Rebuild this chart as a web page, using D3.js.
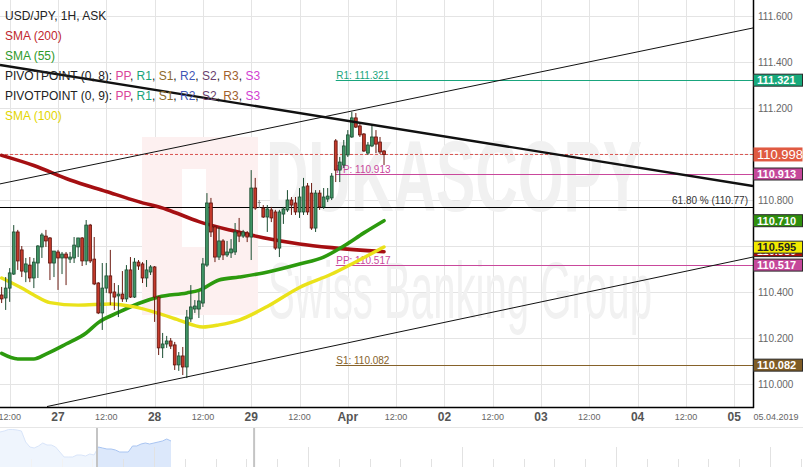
<!DOCTYPE html>
<html><head><meta charset="utf-8">
<script src="https://cdn.jsdelivr.net/npm/d3@7"></script>
<style>html,body{margin:0;padding:0;background:#fff;overflow:hidden}svg{display:block;font-family:"Liberation Sans",Arial,sans-serif}</style>
</head><body><svg id="c" width="803" height="467"></svg>
<script>
// ---------- DATA ----------
const firstIndex = -14; // hourly bars, index 0 = 27 Mar 00:00 (weekend removed)
const open = [
110.387,110.374,110.417,110.478,110.661,110.583,110.487,110.517,110.461,110.526,
110.596,110.643,110.635,110.526,
110.574,110.548,110.565,110.543,110.548,110.596,110.635,110.535,110.691,110.543,
110.439,110.309,110.417,110.470,110.400,110.383,110.391,110.370,110.496,110.378,
110.530,110.522,110.461,110.487,110.509,110.378,110.157,110.174,110.187,110.170,
110.083,110.122,110.074,110.283,110.326,110.326,110.352,110.517,110.787,110.683,
110.552,110.622,110.561,110.570,110.574,110.661,110.643,110.657,110.639,110.852,
110.789,110.765,110.726,110.757,110.748,110.591,110.739,110.757,110.800,110.787,
110.748,110.748,110.861,110.830,110.678,110.830,110.770,110.804,110.809,111.057,
110.930,110.952,110.996,111.074,111.157,111.122,111.087,111.004,111.035,111.074,
111.052,111.013];
const high = [
110.422,110.465,110.504,110.691,110.670,110.600,110.548,110.552,110.548,110.604,
110.657,110.670,110.639,110.578,
110.583,110.574,110.574,110.574,110.639,110.635,110.639,110.713,110.696,110.639,
110.443,110.526,110.526,110.583,110.439,110.430,110.491,110.517,110.552,110.548,
110.539,110.530,110.539,110.517,110.513,110.383,110.222,110.209,110.200,110.183,
110.139,110.161,110.322,110.430,110.365,110.400,110.548,110.830,110.809,110.691,
110.683,110.630,110.622,110.630,110.700,110.722,110.670,110.665,110.930,110.896,
110.800,110.778,110.778,110.770,110.757,110.757,110.770,110.843,110.813,110.813,
110.852,110.896,110.874,110.874,110.843,110.843,110.852,110.852,110.917,111.065,
110.987,111.061,111.104,111.183,111.178,111.130,111.091,111.052,111.126,111.104,
111.074,111.017];
const low = [
110.352,110.322,110.357,110.474,110.496,110.465,110.443,110.443,110.417,110.461,
110.548,110.596,110.452,110.465,
110.409,110.478,110.430,110.526,110.526,110.552,110.513,110.517,110.526,110.430,
110.304,110.235,110.396,110.343,110.322,110.291,110.357,110.357,110.374,110.374,
110.496,110.439,110.422,110.474,110.270,110.126,110.113,110.157,110.152,110.061,
110.057,110.039,110.026,110.270,110.309,110.287,110.335,110.509,110.639,110.530,
110.539,110.539,110.552,110.548,110.561,110.617,110.635,110.617,110.539,110.757,
110.765,110.722,110.661,110.704,110.583,110.552,110.696,110.748,110.735,110.735,
110.722,110.735,110.735,110.670,110.661,110.757,110.761,110.791,110.800,110.878,
110.878,110.939,110.987,111.070,111.113,111.074,111.009,110.996,111.030,111.004,
111.000,110.952];
const close = [
110.370,110.417,110.483,110.661,110.535,110.491,110.522,110.461,110.530,110.600,
110.648,110.622,110.526,110.578,
110.548,110.565,110.548,110.552,110.604,110.635,110.535,110.691,110.535,110.435,
110.309,110.417,110.470,110.396,110.378,110.391,110.370,110.496,110.378,110.530,
110.513,110.461,110.496,110.509,110.378,110.157,110.174,110.187,110.165,110.083,
110.122,110.074,110.291,110.335,110.339,110.361,110.522,110.787,110.661,110.552,
110.622,110.561,110.574,110.587,110.661,110.643,110.661,110.639,110.852,110.765,
110.789,110.726,110.761,110.722,110.591,110.748,110.761,110.800,110.778,110.748,
110.813,110.857,110.748,110.678,110.830,110.770,110.813,110.817,110.904,110.930,
110.965,111.035,111.083,111.157,111.117,111.083,111.013,111.039,111.074,111.043,
111.009,110.998];

const sma200Idx = [-14,-6,3,12,20,27,35,43,51,60,68,81];
const sma200Val = [110.994,110.950,110.887,110.837,110.793,110.759,110.706,110.668,110.636,110.609,110.593,110.575];
const sma55Idx = [-14,-10,-6,-3,2,7,10,15,20,25,32,35,40,45,51,60,66,71,76,81];
const sma55Val = [110.133,110.109,110.109,110.130,110.174,110.222,110.267,110.311,110.350,110.378,110.396,110.407,110.452,110.465,110.483,110.522,110.552,110.600,110.657,110.710];
const sma100Idx = [-14,-9,-6,-2,5,13,19,25,30,36,40,45,52,60,68,73,81];
const sma100Val = [110.461,110.417,110.387,110.354,110.343,110.348,110.335,110.307,110.278,110.248,110.257,110.278,110.337,110.420,110.478,110.522,110.596];

const pivotStart = 69;
const pivotNames = ["R1","PP","PP","S1"];
const pivotValues = [111.321,110.913,110.517,110.082];
const pivotColors = ["#19a57d","#c9489c","#c9489c","#86622a"];
const lastPrice = 110.998;
const fibLevel = 110.77, fibLabel = "61.80 % (110.77)";

const trendMain  = [[-14.41,111.387],[172.67,110.861]];
const chanUpper  = [[-14.41,110.870],[172.67,111.548]];
const chanLower  = [[-2.73,109.902],[172.67,110.552]];

const yTicks = [110.0,110.2,110.4,110.6,110.8,111.0,111.2,111.4,111.6];
const xTickIdx = [-12,0,12,24,36,48,60,72,84,96,108,120,132,144,156,168];
const xTickLabels = ["12:00","27","12:00","28","12:00","29","12:00","Apr","12:00","02","12:00","03","12:00","04","12:00","05"];
const dateLabel = "05.04.2019";

const boxValues = [111.321,110.998,110.913,110.710,110.580,110.595,110.517,110.082];
const boxFill   = ["#17a97b","#e05a42","#c5489a","#2f8f0d","#a50d0d","#f1e900","#c5489a","#7f5c25"];
const boxText   = ["#fff","#fff","#fff","#fff","#fff","#222","#fff","#fff"];

const legendLines = [
  [["USD/JPY, 1H, ASK","#222"]],
  [["SMA (200)","#c0282d"]],
  [["SMA (55)","#2f9a2a"]],
  [["PIVOTPOINT (0, 8): ","#222"],["PP","#d9459a"],[", ","#222"],["R1","#1aa37a"],[", ","#222"],["S1","#8c6a2c"],[", ","#222"],["R2","#3f56b5"],[", ","#222"],["S2","#6a3f6e"],[", ","#222"],["R3","#a0612b"],[", ","#222"],["S3","#d23fd2"]],
  [["PIVOTPOINT (0, 9): ","#222"],["PP","#d9459a"],[", ","#222"],["R1","#1aa37a"],[", ","#222"],["S1","#8c6a2c"],[", ","#222"],["R2","#3f56b5"],[", ","#222"],["S2","#6a3f6e"],[", ","#222"],["R3","#a0612b"],[", ","#222"],["S3","#d23fd2"]],
  [["SMA (100)","#e3d600"]]
];

const navValues = [35,36,37.5,37.5,37,36,25,20,19,21,24,22,22,20,15,10,10,10,12,12,11,13,12,20,19,18,18,17,15,15,15,21,21,23,24,23,24,25,26,28,26];

// ---------- LAYOUT ----------
const svg = d3.select("#c");
const PR = 753, PB = 407;
const x = d3.scaleLinear().domain([-14.41,172.67]).range([0,PR]);
const y = d3.scaleLinear().domain([110,111.6]).range([384,16]);

svg.append("defs").append("clipPath").attr("id","pc").append("rect").attr("x",0).attr("y",0).attr("width",PR).attr("height",PB);
const plot = svg.append("g").attr("clip-path","url(#pc)");

// grid
plot.selectAll(".hg").data(yTicks).join("line").attr("x1",0).attr("x2",PR)
  .attr("y1",d=>Math.round(y(d))+0.5).attr("y2",d=>Math.round(y(d))+0.5).attr("stroke","#e4e4e4");
plot.selectAll(".vg").data(xTickIdx).join("line").attr("y1",0).attr("y2",PB)
  .attr("x1",d=>Math.round(x(d))+0.5).attr("x2",d=>Math.round(x(d))+0.5).attr("stroke","#e4e4e4");

// watermark
const wm = plot.append("g");
wm.append("rect").attr("x",142).attr("y",137).attr("width",116).attr("height",178).attr("fill","#fdf0f0");
wm.append("rect").attr("x",182).attr("y",169).attr("width",24).attr("height",78).attr("fill","#ffffff");
wm.append("text").attr("x",266).attr("y",211).attr("font-size",100).attr("font-weight","bold")
  .attr("textLength",376).attr("lengthAdjust","spacingAndGlyphs").attr("fill","#f1f1f1").text("DUKASCOPY");
wm.append("text").attr("x",268).attr("y",318).attr("font-size",80)
  .attr("textLength",384).attr("lengthAdjust","spacingAndGlyphs").attr("fill","#f1f1f1").text("Swiss Banking Group");

// horizontal levels
plot.append("line").attr("x1",0).attr("x2",PR).attr("y1",y(lastPrice)).attr("y2",y(lastPrice))
  .attr("stroke","#d9534f").attr("stroke-dasharray","3,2");
plot.append("line").attr("x1",0).attr("x2",PR).attr("y1",Math.round(y(fibLevel))+0.5).attr("y2",Math.round(y(fibLevel))+0.5)
  .attr("stroke","#000");
plot.append("text").attr("x",748).attr("y",y(fibLevel)-3).attr("text-anchor","end").attr("font-size",10)
  .attr("fill","#333").text(fibLabel);

pivotValues.forEach((v,k)=>{
  const yy = Math.round(y(v))+0.5;
  plot.append("line").attr("x1",x(pivotStart)).attr("x2",PR).attr("y1",yy).attr("y2",yy).attr("stroke",pivotColors[k]);
  plot.append("text").attr("x",x(pivotStart)+0.5).attr("y",yy-2).attr("font-size",10).attr("fill",pivotColors[k])
    .text(pivotNames[k]+": "+v.toFixed(3));
});

// SMAs
const line = d3.line().x(d=>x(d[0])).y(d=>y(d[1])).curve(d3.curveMonotoneX);
function sma(idx,val,color,w){
  plot.append("path").datum(idx.map((d,i)=>[d,val[i]])).attr("d",line).attr("fill","none")
    .attr("stroke",color).attr("stroke-width",w).attr("stroke-linejoin","round").attr("stroke-linecap","round");
}
sma(sma200Idx,sma200Val,"#a50f12",3.6);
sma(sma55Idx,sma55Val,"#2c9a0e",3.6);
sma(sma100Idx,sma100Val,"#eae21a",3.4);

// candles
const candles = open.map((o,i)=>({i:i+firstIndex,o,h:high[i],l:low[i],c:close[i]}));
const cg = plot.append("g");
candles.forEach(d=>{
  const up = d.c>d.o, flat = d.c===d.o;
  const wick = flat?"#888":(up?"#1b4d31":"#6b1a10");
  const cx = x(d.i);
  cg.append("line").attr("x1",cx).attr("x2",cx).attr("y1",y(d.h)).attr("y2",y(d.l)).attr("stroke",wick).attr("stroke-width",1);
  if(flat){
    cg.append("line").attr("x1",cx-1.5).attr("x2",cx+1.5).attr("y1",y(d.o)).attr("y2",y(d.o)).attr("stroke","#888");
  } else {
    const t = y(Math.max(d.o,d.c)), b = y(Math.min(d.o,d.c));
    cg.append("rect").attr("x",cx-1.4).attr("width",2.8).attr("y",t).attr("height",Math.max(1,b-t))
      .attr("fill",up?"#3f9464":"#c43a2b").attr("stroke",up?"#1b4d31":"#5e120c").attr("stroke-width",0.8);
  }
});

// trend lines
const tl = d3.line().x(d=>x(d[0])).y(d=>y(d[1]));
plot.append("path").datum(trendMain).attr("d",tl).attr("stroke","#111").attr("stroke-width",2.4).attr("fill","none");
plot.append("path").datum(chanUpper).attr("d",tl).attr("stroke","#111").attr("stroke-width",1).attr("fill","none");
plot.append("path").datum(chanLower).attr("d",tl).attr("stroke","#111").attr("stroke-width",1).attr("fill","none");

// axes frame
svg.append("line").attr("x1",PR+0.5).attr("x2",PR+0.5).attr("y1",0).attr("y2",PB+1).attr("stroke","#000").attr("stroke-width",1.5);
svg.append("line").attr("x1",0).attr("x2",PR+1).attr("y1",PB+0.5).attr("y2",PB+0.5).attr("stroke","#000").attr("stroke-width",1.5);

// y labels
svg.selectAll(".yl").data(yTicks).join("text").attr("x",758).attr("y",d=>y(d)).attr("dy","0.35em")
  .attr("font-size",10).attr("fill","#666").text(d=>d.toFixed(3));

// x labels
svg.selectAll(".xl").data(xTickIdx).join("text")
  .attr("x",d=>x(d)).attr("y",(d,i)=>xTickLabels[i]==="12:00"?420:421).attr("text-anchor","middle")
  .attr("font-size",(d,i)=>xTickLabels[i]==="12:00"?9:12)
  .attr("font-weight",(d,i)=>xTickLabels[i]==="12:00"?"normal":"bold")
  .attr("fill",(d,i)=>xTickLabels[i]==="12:00"?"#666":"#555")
  .text((d,i)=>xTickLabels[i]);
svg.append("text").attr("x",776).attr("y",420).attr("text-anchor","middle").attr("font-size",9).attr("fill","#666").text(dateLabel);

// right boxes
boxValues.forEach((v,k)=>{
  const big = v===lastPrice;
  const h = big?14:12;
  const yy = y(v);
  svg.append("rect").attr("x",PR+0.5).attr("y",yy-h/2).attr("width",49).attr("height",h)
    .attr("fill",boxFill[k]).attr("stroke",big?"none":"#2a2a2a").attr("stroke-width",1);
  svg.append("text").attr("x",757).attr("y",yy).attr("dy","0.36em")
    .attr("font-size",big?13:11).attr("font-weight",big?"normal":"bold").attr("fill",boxText[k]).text(v.toFixed(3));
});

// legend
legendLines.forEach((parts,r)=>{
  const t = svg.append("text").attr("x",5).attr("y",20+r*20).attr("font-size",12);
  parts.forEach(p=>t.append("tspan").attr("fill",p[1]).attr("xml:space","preserve").text(p[0]));
});

// navigator
svg.append("line").attr("x1",0).attr("x2",803).attr("y1",427.5).attr("y2",427.5).attr("stroke","#e6e6e6");
const nx = d3.scaleLinear().domain([0,navValues.length-1]).range([0,171]);
const ny = d3.scaleLinear().domain([0,40]).range([467,427]);
const area = d3.area().x((d,i)=>nx(i)).y0(467).y1(d=>ny(d));
svg.append("path").datum(navValues).attr("d",area).attr("fill","#dce8fb");
svg.append("path").datum(navValues).attr("d",d3.line().x((d,i)=>nx(i)).y(d=>ny(d))).attr("fill","none").attr("stroke","#a9c5f2").attr("stroke-width",1);
const nt = d3.scaleLinear().domain([0,26]).range([0,800.8]);
svg.selectAll(".nt").data(d3.range(1,27)).join("line")
  .attr("x1",d=>Math.round(nt(d))+0.5).attr("x2",d=>Math.round(nt(d))+0.5)
  .attr("y1",d=>d%5===0?447:459).attr("y2",467).attr("stroke","#e2e2e2");
svg.append("rect").attr("x",0).attr("y",428).attr("width",nt(3.15)).attr("height",39).attr("fill","#fff").attr("opacity",0.55);
[3.15,8.25].forEach(v=>{
  svg.append("line").attr("x1",nt(v)).attr("x2",nt(v)).attr("y1",428).attr("y2",467).attr("stroke","#c4c4c4").attr("stroke-width",2);
});
</script></body></html>
